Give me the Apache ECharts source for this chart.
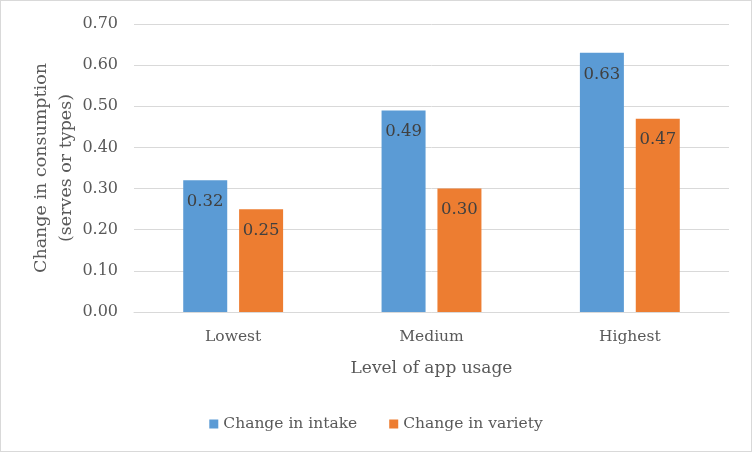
<!DOCTYPE html>
<html><head><meta charset="utf-8">
<script src="https://cdn.jsdelivr.net/npm/echarts@6/dist/echarts.min.js"></script>
<style>html,body{margin:0;padding:0;background:#fff}#c{width:752px;height:452px;box-sizing:border-box;border:1px solid #d9d9d9}</style>
</head><body><div id="c"></div>
<script>
const categories = ['Lowest', 'Medium', 'Highest'];
const intake = [0.32, 0.49, 0.63];
const variety = [0.25, 0.30, 0.47];
const seriesNames = ['Change in intake', 'Change in variety'];
const FONT = 'DejaVu Serif';
const chart = echarts.init(document.getElementById('c'));
const lbl = {show: true, position: 'insideTop', distance: 13, color: '#404040', fontFamily: FONT, fontSize: 16.5, formatter: p => p.value.toFixed(2)};
chart.setOption({
  animation: false,
  textStyle: {fontFamily: FONT},
  grid: {left: 133, right: 22, top: 23, bottom: 139, containLabel: false},
  legend: {
    bottom: 14, left: 'center', itemWidth: 9, itemHeight: 9, itemGap: 32,
    icon: 'rect',
    textStyle: {color: '#595959', fontFamily: FONT, fontSize: 15.5}
  },
  xAxis: {
    type: 'category', data: categories,
    name: 'Level of app usage', nameLocation: 'middle', nameGap: 48,
    nameTextStyle: {color: '#595959', fontFamily: FONT, fontSize: 17},
    axisLine: {lineStyle: {color: '#d9d9d9'}},
    axisTick: {show: false},
    axisLabel: {color: '#595959', fontFamily: FONT, fontSize: 15.5, margin: 17}
  },
  yAxis: {
    type: 'value', min: 0, max: 0.7, interval: 0.1,
    name: 'Change in consumption\n(serves or types)', nameLocation: 'middle', nameGap: 55,
    nameMoveOverlap: false,
    nameTextStyle: {color: '#595959', fontFamily: FONT, fontSize: 17.5, lineHeight: 25},
    axisLine: {show: false}, axisTick: {show: false},
    axisLabel: {color: '#595959', fontFamily: FONT, fontSize: 16, margin: 16, formatter: v => v.toFixed(2)},
    splitLine: {lineStyle: {color: '#d9d9d9'}}
  },
  series: [
    {name: seriesNames[0], type: 'bar', data: intake, barWidth: 44, barGap: '27%', itemStyle: {color: '#5b9bd5'}, label: lbl},
    {name: seriesNames[1], type: 'bar', data: variety, barWidth: 44, itemStyle: {color: '#ed7d31'}, label: lbl}
  ]
});
</script></body></html>
